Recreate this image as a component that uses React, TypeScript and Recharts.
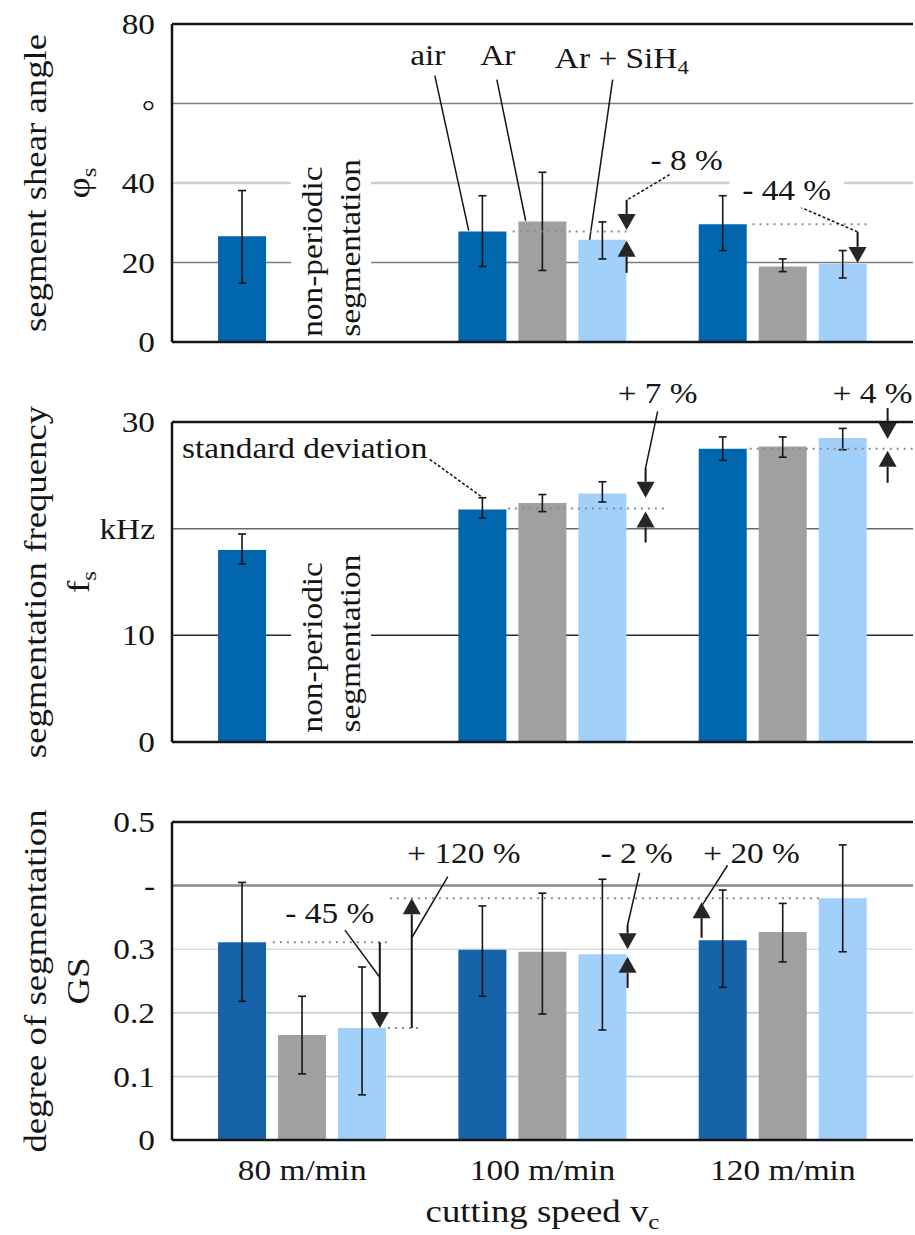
import React from 'react';
import { BarChart, Bar, XAxis, YAxis, CartesianGrid, ErrorBar, ReferenceLine, ReferenceDot } from 'recharts';

const speeds = ['80 m/min', '100 m/min', '120 m/min'];

// segment shear angle φs (°), bar value + [low, high] of the standard deviation
const shearAir = [26.6, 27.8, 29.6];
const shearAr = [null, 30.3, 19.0];
const shearSiH4 = [null, 25.7, 19.7];
const shearAirSd = [[14.8, 38.1], [19.0, 36.8], [23.0, 36.8]];
const shearArSd = [null, [18.0, 42.7], [17.7, 20.9]];
const shearSiH4Sd = [null, [20.9, 30.2], [16.1, 23.0]];

// segmentation frequency fs (kHz)
const freqAir = [18.0, 21.8, 27.5];
const freqAr = [null, 22.4, 27.7];
const freqSiH4 = [null, 23.3, 28.5];
const freqAirSd = [[16.7, 19.5], [21.0, 22.9], [26.4, 28.6]];
const freqArSd = [null, [21.6, 23.2], [26.7, 28.6]];
const freqSiH4Sd = [null, [22.5, 24.4], [27.4, 29.4]];

// degree of segmentation GS
const gsAir = [0.311, 0.299, 0.314];
const gsAr = [0.165, 0.296, 0.327];
const gsSiH4 = [0.176, 0.292, 0.38];
const gsAirSd = [[0.218, 0.405], [0.226, 0.368], [0.24, 0.393]];
const gsArSd = [[0.104, 0.226], [0.198, 0.388], [0.28, 0.372]];
const gsSiH4Sd = [[0.071, 0.272], [0.173, 0.41], [0.296, 0.464]];

const shearTicks = [0, 20, 40, 60, 80];
const shearTickLabels = ['0', '20', '40', '°', '80'];
const freqTicks = [0, 10, 20, 30];
const freqTickLabels = ['0', '10', 'kHz', '30'];
const gsTicks = [0, 0.1, 0.2, 0.3, 0.4, 0.5];
const gsTickLabels = ['0', '0.1', '0.2', '0.3', '-', '0.5'];

const FONT = '"Liberation Serif", "Times New Roman", serif';
const STRETCH = 1.15; // the original lettering is drawn wide
const TEXT = 29;
const TITLE = 32;
const INK = '#151515';
const AIR = '#0066ad';
const AIR_GS = '#1763aa';
const ARGON = '#a0a0a0';
const SILANE = '#a1d0fb';

const toErr = (v: any, sd: any) => (v == null || !sd ? null : [v - sd[0], sd[1] - v]);

// slot = middle of each category band on the helper axis used by the annotations
const buildRows = (air: any[], ar: any[], sih4: any[], airSd: any[], arSd: any[], sih4Sd: any[]) =>
  speeds.map((speed, i) => ({
    speed,
    slot: i + 0.5,
    air: air[i],
    ar: ar[i],
    sih4: sih4[i],
    airErr: toErr(air[i], airSd[i]),
    arErr: toErr(ar[i], arSd[i]),
    sih4Err: toErr(sih4[i], sih4Sd[i]),
  }));

const Txt = ({ x, y, size = TEXT, anchor = 'middle', rotate = false, dy = '0.35em', children }: any) => (
  <text
    transform={`translate(${x} ${y})${rotate ? ' rotate(-90)' : ''} scale(${STRETCH} 1)`}
    fontFamily={FONT}
    fontSize={size}
    fill={INK}
    textAnchor={anchor}
    dy={dy}
  >
    {children}
  </text>
);

const Sub = ({ children }: any) => (
  <tspan fontSize="68%" dy="0.3em">
    {children}
  </tspan>
);

// annotation helpers; x is in band units (0..3 across the categories), y in data units
const T = (x: number, y: number, text: string, extra: any = {}) => ({ kind: 'text', x, y, text, ...extra });
const L = (x1: number, y1: number, x2: number, y2: number, style = 'solid') => ({ kind: 'line', x1, y1, x2, y2, style });
const V = (x: number, y: number, lines: string[]) => ({ kind: 'vtext', x, y, lines });

const nonPeriodic = ['non-periodic', 'segmentation'];

const shearNotes = [
  V(0.62, 1.3, nonPeriodic),
  T(1.023, 72.3, 'air'),
  T(1.314, 72.3, 'Ar'),
  T(1.83, 71.5, 'Ar + SiH', { sub: '4' }),
  L(1.052, 67.0, 1.193, 28.0),
  L(1.31, 66.0, 1.43, 30.5),
  L(1.792, 66.0, 1.696, 25.7),
  L(1.376, 27.8, 1.85, 27.8, 'dotted'),
  T(2.1, 45.9, '- 8 %'),
  L(2.029, 42.1, 1.854, 35.8, 'dashed'),
  L(1.85, 35.8, 1.85, 28.2, 'arrow'),
  L(1.85, 17.4, 1.85, 25.5, 'arrow'),
  L(2.374, 29.6, 2.852, 29.6, 'dotted'),
  T(2.516, 38.3, '- 44 %', { bg: 114 }),
  L(2.57, 34.0, 2.811, 27.7, 'dashed'),
  L(2.811, 27.7, 2.811, 19.9, 'arrow'),
];

const freqNotes = [
  V(0.62, 0.89, nonPeriodic),
  T(0.0, 27.6, 'standard deviation', { anchor: 'start' }),
  L(1.031, 26.5, 1.252, 22.9, 'dashed'),
  L(1.356, 21.9, 2.017, 21.9, 'dotted'),
  T(1.979, 32.7, '+ 7 %'),
  L(1.979, 31.0, 1.929, 25.7),
  L(1.929, 25.7, 1.929, 22.9, 'arrow'),
  L(1.929, 18.7, 1.929, 21.6, 'arrow'),
  L(2.362, 27.5, 3.04, 27.5, 'dotted'),
  T(2.873, 32.7, '+ 4 %'),
  L(2.936, 31.3, 2.936, 28.4, 'arrow'),
  L(2.936, 24.3, 2.936, 27.3, 'arrow'),
];

const gsNotes = [
  L(0.378, 0.311, 0.857, 0.311, 'dotted'),
  T(0.615, 0.357, '- 45 %'),
  L(0.678, 0.33, 0.823, 0.256),
  L(0.823, 0.311, 0.823, 0.176, 'arrow'),
  L(0.857, 0.176, 0.99, 0.176, 'dotted'),
  T(1.173, 0.451, '+ 120 %'),
  L(1.106, 0.414, 0.956, 0.318),
  L(0.956, 0.176, 0.956, 0.38, 'arrow'),
  L(0.865, 0.38, 2.653, 0.38, 'dotted'),
  T(1.892, 0.451, '- 2 %'),
  L(1.904, 0.42, 1.854, 0.338),
  L(1.854, 0.338, 1.854, 0.3, 'arrow'),
  L(1.854, 0.239, 1.854, 0.288, 'arrow'),
  T(2.37, 0.451, '+ 20 %'),
  L(2.27, 0.432, 2.166, 0.37),
  L(2.162, 0.318, 2.162, 0.374, 'arrow'),
];

const lineStyles: any = {
  solid: { stroke: INK, width: 1.5 },
  dashed: { stroke: INK, width: 1.5, dash: '3 2' },
  dotted: { stroke: '#8a8a8a', width: 2, dash: '2 5' },
  arrow: { stroke: INK, width: 2, head: true },
};

const Arrow = ({ x1, y1, x2, y2, style }: any) => {
  if ([x1, y1, x2, y2].some((v) => typeof v !== 'number' || isNaN(v))) return null;
  const s = lineStyles[style];
  const len = Math.hypot(x2 - x1, y2 - y1) || 1;
  const ux = (x2 - x1) / len;
  const uy = (y2 - y1) / len;
  const hl = 16;
  const hw = 9;
  const bx = x2 - ux * hl;
  const by = y2 - uy * hl;
  return (
    <g>
      <line
        x1={x1}
        y1={y1}
        x2={s.head ? bx : x2}
        y2={s.head ? by : y2}
        stroke={s.stroke}
        strokeWidth={s.width}
        strokeDasharray={s.dash}
      />
      {s.head && (
        <polygon points={`${x2},${y2} ${bx - uy * hw},${by + ux * hw} ${bx + uy * hw},${by - ux * hw}`} fill="#262626" />
      )}
    </g>
  );
};

const NoteText = ({ cx, cy, note }: any) => {
  if (note.kind === 'vtext') {
    return (
      <g>
        <rect x={cx - 40} y={cy - 182} width={80} height={182} fill="#fff" />
        <text
          transform={`translate(${cx} ${cy}) rotate(-90) scale(${STRETCH} 1)`}
          fontFamily={FONT}
          fontSize={TEXT}
          fill={INK}
        >
          <tspan x={0} y={-19} dy="0.35em">{note.lines[0]}</tspan>
          <tspan x={0} y={19} dy="0.35em">{note.lines[1]}</tspan>
        </text>
      </g>
    );
  }
  return (
    <g>
      {note.bg && <rect x={cx - note.bg / 2} y={cy - 18} width={note.bg} height={36} fill="#fff" />}
      <Txt x={cx} y={cy} anchor={note.anchor || 'middle'}>
        {note.text}
        {note.sub && <Sub>{note.sub}</Sub>}
      </Txt>
    </g>
  );
};

const renderNotes = (notes: any[]) =>
  notes.map((n, i) =>
    n.kind === 'line' ? (
      <ReferenceLine
        key={`n${i}`}
        xAxisId="n"
        segment={[{ x: n.x1, y: n.y1 }, { x: n.x2, y: n.y2 }]}
        ifOverflow="visible"
        shape={(p: any) => <Arrow {...p} style={n.style} />}
      />
    ) : (
      <ReferenceDot
        key={`n${i}`}
        xAxisId="n"
        x={n.x}
        y={n.y}
        ifOverflow="visible"
        shape={(p: any) => <NoteText cx={p.cx} cy={p.cy} note={n} />}
      />
    )
  );

const AxisTitle = ({ viewBox, title, symbol }: any) => {
  if (!viewBox) return null;
  const cy = viewBox.y + viewBox.height / 2;
  return (
    <g>
      <Txt x={viewBox.x + 35} y={cy} size={TITLE} rotate>
        {title}
      </Txt>
      <Txt x={viewBox.x + 78} y={cy} size={TITLE} rotate>
        {symbol[0]}
        {symbol[1] && <Sub>{symbol[1]}</Sub>}
      </Txt>
    </g>
  );
};

const Panel = ({ rows, top, height, marginTop, marginBottom, domain, ticks, tickLabels, grid, title, symbol, notes, airColor, showX }: any) => {
  const span = domain[1] - domain[0];
  const gridLine = (p: any) => {
    const value = domain[1] - ((p.y1 - p.y) / p.height) * span;
    const idx = ticks.findIndex((t: number) => Math.abs(t - value) < span / 100);
    const g = grid[idx];
    if (!g) return <g key={p.key} />;
    return <line key={p.key} x1={p.x1} x2={p.x2} y1={p.y1} y2={p.y2} stroke={g[0]} strokeWidth={g[1]} />;
  };
  return (
    <div style={{ position: 'absolute', left: 0, top }}>
      <BarChart
        width={915}
        height={height}
        data={rows}
        margin={{ top: marginTop, right: 2, bottom: marginBottom, left: 0 }}
        barGap={12}
        barCategoryGap="15%"
      >
        <CartesianGrid vertical={false} horizontal={gridLine} />
        <XAxis
          dataKey="speed"
          padding={{ left: 10, right: 10 }}
          hide={!showX}
          axisLine={false}
          tickLine={false}
          tickSize={0}
          tickMargin={19}
          height={60}
          tick={(p: any) => (
            <Txt x={p.x} y={p.y} dy="0.71em">
              {p.payload.value}
            </Txt>
          )}
          label={{
            content: (p: any) =>
              p.viewBox ? (
                <Txt x={p.viewBox.x + p.viewBox.width / 2} y={p.viewBox.y + 82} size={TITLE} dy="0">
                  cutting speed v<Sub>c</Sub>
                </Txt>
              ) : null,
          }}
        />
        <XAxis
          xAxisId="n"
          dataKey="slot"
          type="number"
          domain={[0, 3]}
          padding={{ left: 10, right: 10 }}
          allowDataOverflow
          hide
        />
        <YAxis
          domain={domain}
          ticks={ticks}
          interval={0}
          allowDataOverflow
          width={172}
          tickSize={0}
          tickMargin={17}
          tickLine={false}
          axisLine={{ stroke: INK, strokeWidth: 2.5 }}
          tick={(p: any) => {
            const label = tickLabels[ticks.indexOf(p.payload.value)];
            // the degree sign sits on the grid line in the original
            return (
              <Txt x={p.x} y={p.y} anchor="end" dy={label === '°' ? '0.6em' : '0.35em'}>
                {label}
              </Txt>
            );
          }}
          label={{ content: (p: any) => <AxisTitle viewBox={p.viewBox} title={title} symbol={symbol} /> }}
        />
        <YAxis yAxisId="r" orientation="right" width={0} tick={false} tickLine={false} axisLine={{ stroke: '#555', strokeWidth: 1.5 }} />
        <Bar dataKey="air" fill={airColor} isAnimationActive={false}>
          <ErrorBar dataKey="airErr" width={4} stroke={INK} strokeWidth={1.6} isAnimationActive={false} />
        </Bar>
        <Bar dataKey="ar" fill={ARGON} isAnimationActive={false}>
          <ErrorBar dataKey="arErr" width={4} stroke={INK} strokeWidth={1.6} isAnimationActive={false} />
        </Bar>
        <Bar dataKey="sih4" fill={SILANE} isAnimationActive={false}>
          <ErrorBar dataKey="sih4Err" width={4} stroke={INK} strokeWidth={1.6} isAnimationActive={false} />
        </Bar>
        <ReferenceLine y={domain[1]} stroke={INK} strokeWidth={2.5} />
        <ReferenceLine y={domain[0]} stroke={INK} strokeWidth={2.5} />
        {renderNotes(notes)}
      </BarChart>
    </div>
  );
};

export default function App() {
  return (
    <div style={{ position: 'absolute', left: 0, top: 0, width: 915, height: 1235, background: '#fff' }}>
      <Panel
        rows={buildRows(shearAir, shearAr, shearSiH4, shearAirSd, shearArSd, shearSiH4Sd)}
        top={0}
        height={360}
        marginTop={24}
        marginBottom={18}
        domain={[0, 80]}
        ticks={shearTicks}
        tickLabels={shearTickLabels}
        grid={[null, ['#7d7d7d', 1.5], ['#cfcfcf', 2.5], ['#7d7d7d', 1.5], null]}
        title="segment shear angle"
        symbol={['φ', 's']}
        notes={shearNotes}
        airColor={AIR}
        showX={false}
      />
      <Panel
        rows={buildRows(freqAir, freqAr, freqSiH4, freqAirSd, freqArSd, freqSiH4Sd)}
        top={360}
        height={400}
        marginTop={62}
        marginBottom={18}
        domain={[0, 30]}
        ticks={freqTicks}
        tickLabels={freqTickLabels}
        grid={[null, ['#2a2a2a', 1.5], ['#6a6a6a', 1.5], null]}
        title="segmentation frequency"
        symbol={['f', 's']}
        notes={freqNotes}
        airColor={AIR}
        showX={false}
      />
      <Panel
        rows={buildRows(gsAir, gsAr, gsSiH4, gsAirSd, gsArSd, gsSiH4Sd)}
        top={760}
        height={475}
        marginTop={62}
        marginBottom={35}
        domain={[0, 0.5]}
        ticks={gsTicks}
        tickLabels={gsTickLabels}
        grid={[null, ['#c8c8c8', 1.5], ['#c8c8c8', 1.5], ['#dcdcdc', 1.5], ['#8a8a8a', 2.5], null]}
        title="degree of segmentation"
        symbol={['GS']}
        notes={gsNotes}
        airColor={AIR_GS}
        showX
      />
    </div>
  );
}
